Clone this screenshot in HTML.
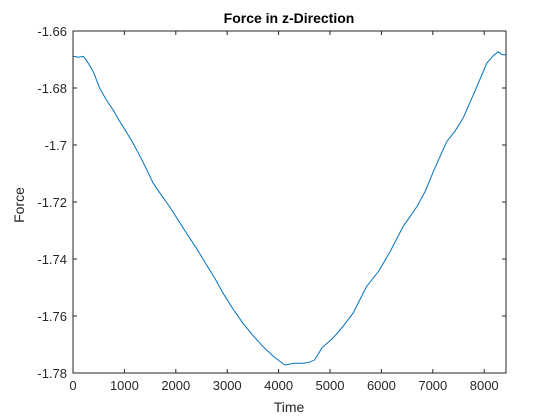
<!DOCTYPE html>
<html><head><meta charset="utf-8"><style>
body{margin:0;background:#fff;}
svg{display:block;font-family:"Liberation Sans","DejaVu Sans",sans-serif;}
</style></head><body>
<svg id="chart" width="560" height="420">
<rect width="560" height="420" fill="#fff"/>
<rect x="73" y="31" width="433" height="342" fill="#fff"/>
<g id="ticks"></g>
<polyline id="line" fill="none" stroke="#0072bd" stroke-width="1"/>
<path d="M73,31V373H506V31Z" fill="none" stroke="#262626" stroke-width="1"/>
<text x="289" y="23" text-anchor="middle" font-size="14" font-weight="bold" fill="#000">Force in z-Direction</text>
<text x="289" y="412" text-anchor="middle" font-size="14" fill="#262626">Time</text>
<text x="24" y="205" text-anchor="middle" font-size="14" fill="#262626" transform="rotate(-90 24 205)">Force</text>
</svg>
<script>
const times=[0,100,200,260,400,520,650,780,900,1030,1170,1300,1430,1560,1720,1880,2040,2210,2400,2600,2760,2920,3110,3310,3500,3700,3900,4120,4300,4480,4600,4700,4800,4840,5060,5250,5450,5710,5950,6170,6420,6690,6850,7000,7140,7270,7430,7590,7820,8050,8170,8270,8350,8424];
const forces=[-1.6688,-1.6692,-1.6689,-1.6702,-1.6745,-1.6801,-1.6842,-1.6877,-1.6915,-1.6952,-1.6994,-1.7038,-1.7085,-1.7134,-1.7176,-1.7216,-1.7262,-1.731,-1.7362,-1.7421,-1.7468,-1.752,-1.7575,-1.7626,-1.7668,-1.7708,-1.7742,-1.7772,-1.7766,-1.7766,-1.7762,-1.7754,-1.7725,-1.7712,-1.7677,-1.7637,-1.759,-1.7497,-1.7442,-1.7374,-1.7287,-1.7216,-1.7163,-1.7098,-1.7041,-1.6988,-1.6952,-1.6906,-1.681,-1.6713,-1.6688,-1.6673,-1.6683,-1.6683];
const xTicks=[0,1000,2000,3000,4000,5000,6000,7000,8000];
const yTicks=[-1.66,-1.68,-1.7,-1.72,-1.74,-1.76,-1.78];
const L=73,R=506,T=31,B=373,XMAX=8424,YMIN=-1.78,YMAX=-1.66;
const sx=v=>L+v/XMAX*(R-L);
const sy=v=>B-(v-YMIN)/(YMAX-YMIN)*(B-T);
const NS="http://www.w3.org/2000/svg";
const g=document.getElementById('ticks');
function mk(tag,a){const e=document.createElementNS(NS,tag);for(const k in a)e.setAttribute(k,a[k]);return e;}
xTicks.forEach(v=>{
  const x=sx(v);
  const t1=mk('line',{x1:x,x2:x,y1:B,y2:B-4,stroke:'#262626'});
  
  
  g.appendChild(t1);
  const t2=mk('line',{x1:x,x2:x,y1:T,y2:T+4,stroke:'#262626'});
  
  
  g.appendChild(t2);
  const tx=mk('text',{x:x,y:B+17,'text-anchor':'middle','font-size':13,fill:'#262626'});
  tx.textContent=String(v);
  
  
  g.appendChild(tx);
});
yTicks.forEach(v=>{
  const y=sy(v);
  const t1=mk('line',{x1:L,x2:L+4,y1:y,y2:y,stroke:'#262626'});
  
  
  g.appendChild(t1);
  const t2=mk('line',{x1:R,x2:R-4,y1:y,y2:y,stroke:'#262626'});
  
  
  g.appendChild(t2);
  const tx=mk('text',{x:L-6,y:y+5,'text-anchor':'end','font-size':13,fill:'#262626'});
  tx.textContent=String(v);
  
  
  g.appendChild(tx);
});
document.getElementById('line').setAttribute('points',times.map((t,i)=>sx(t).toFixed(1)+','+sy(forces[i]).toFixed(1)).join(' '));
</script>
</body></html>
